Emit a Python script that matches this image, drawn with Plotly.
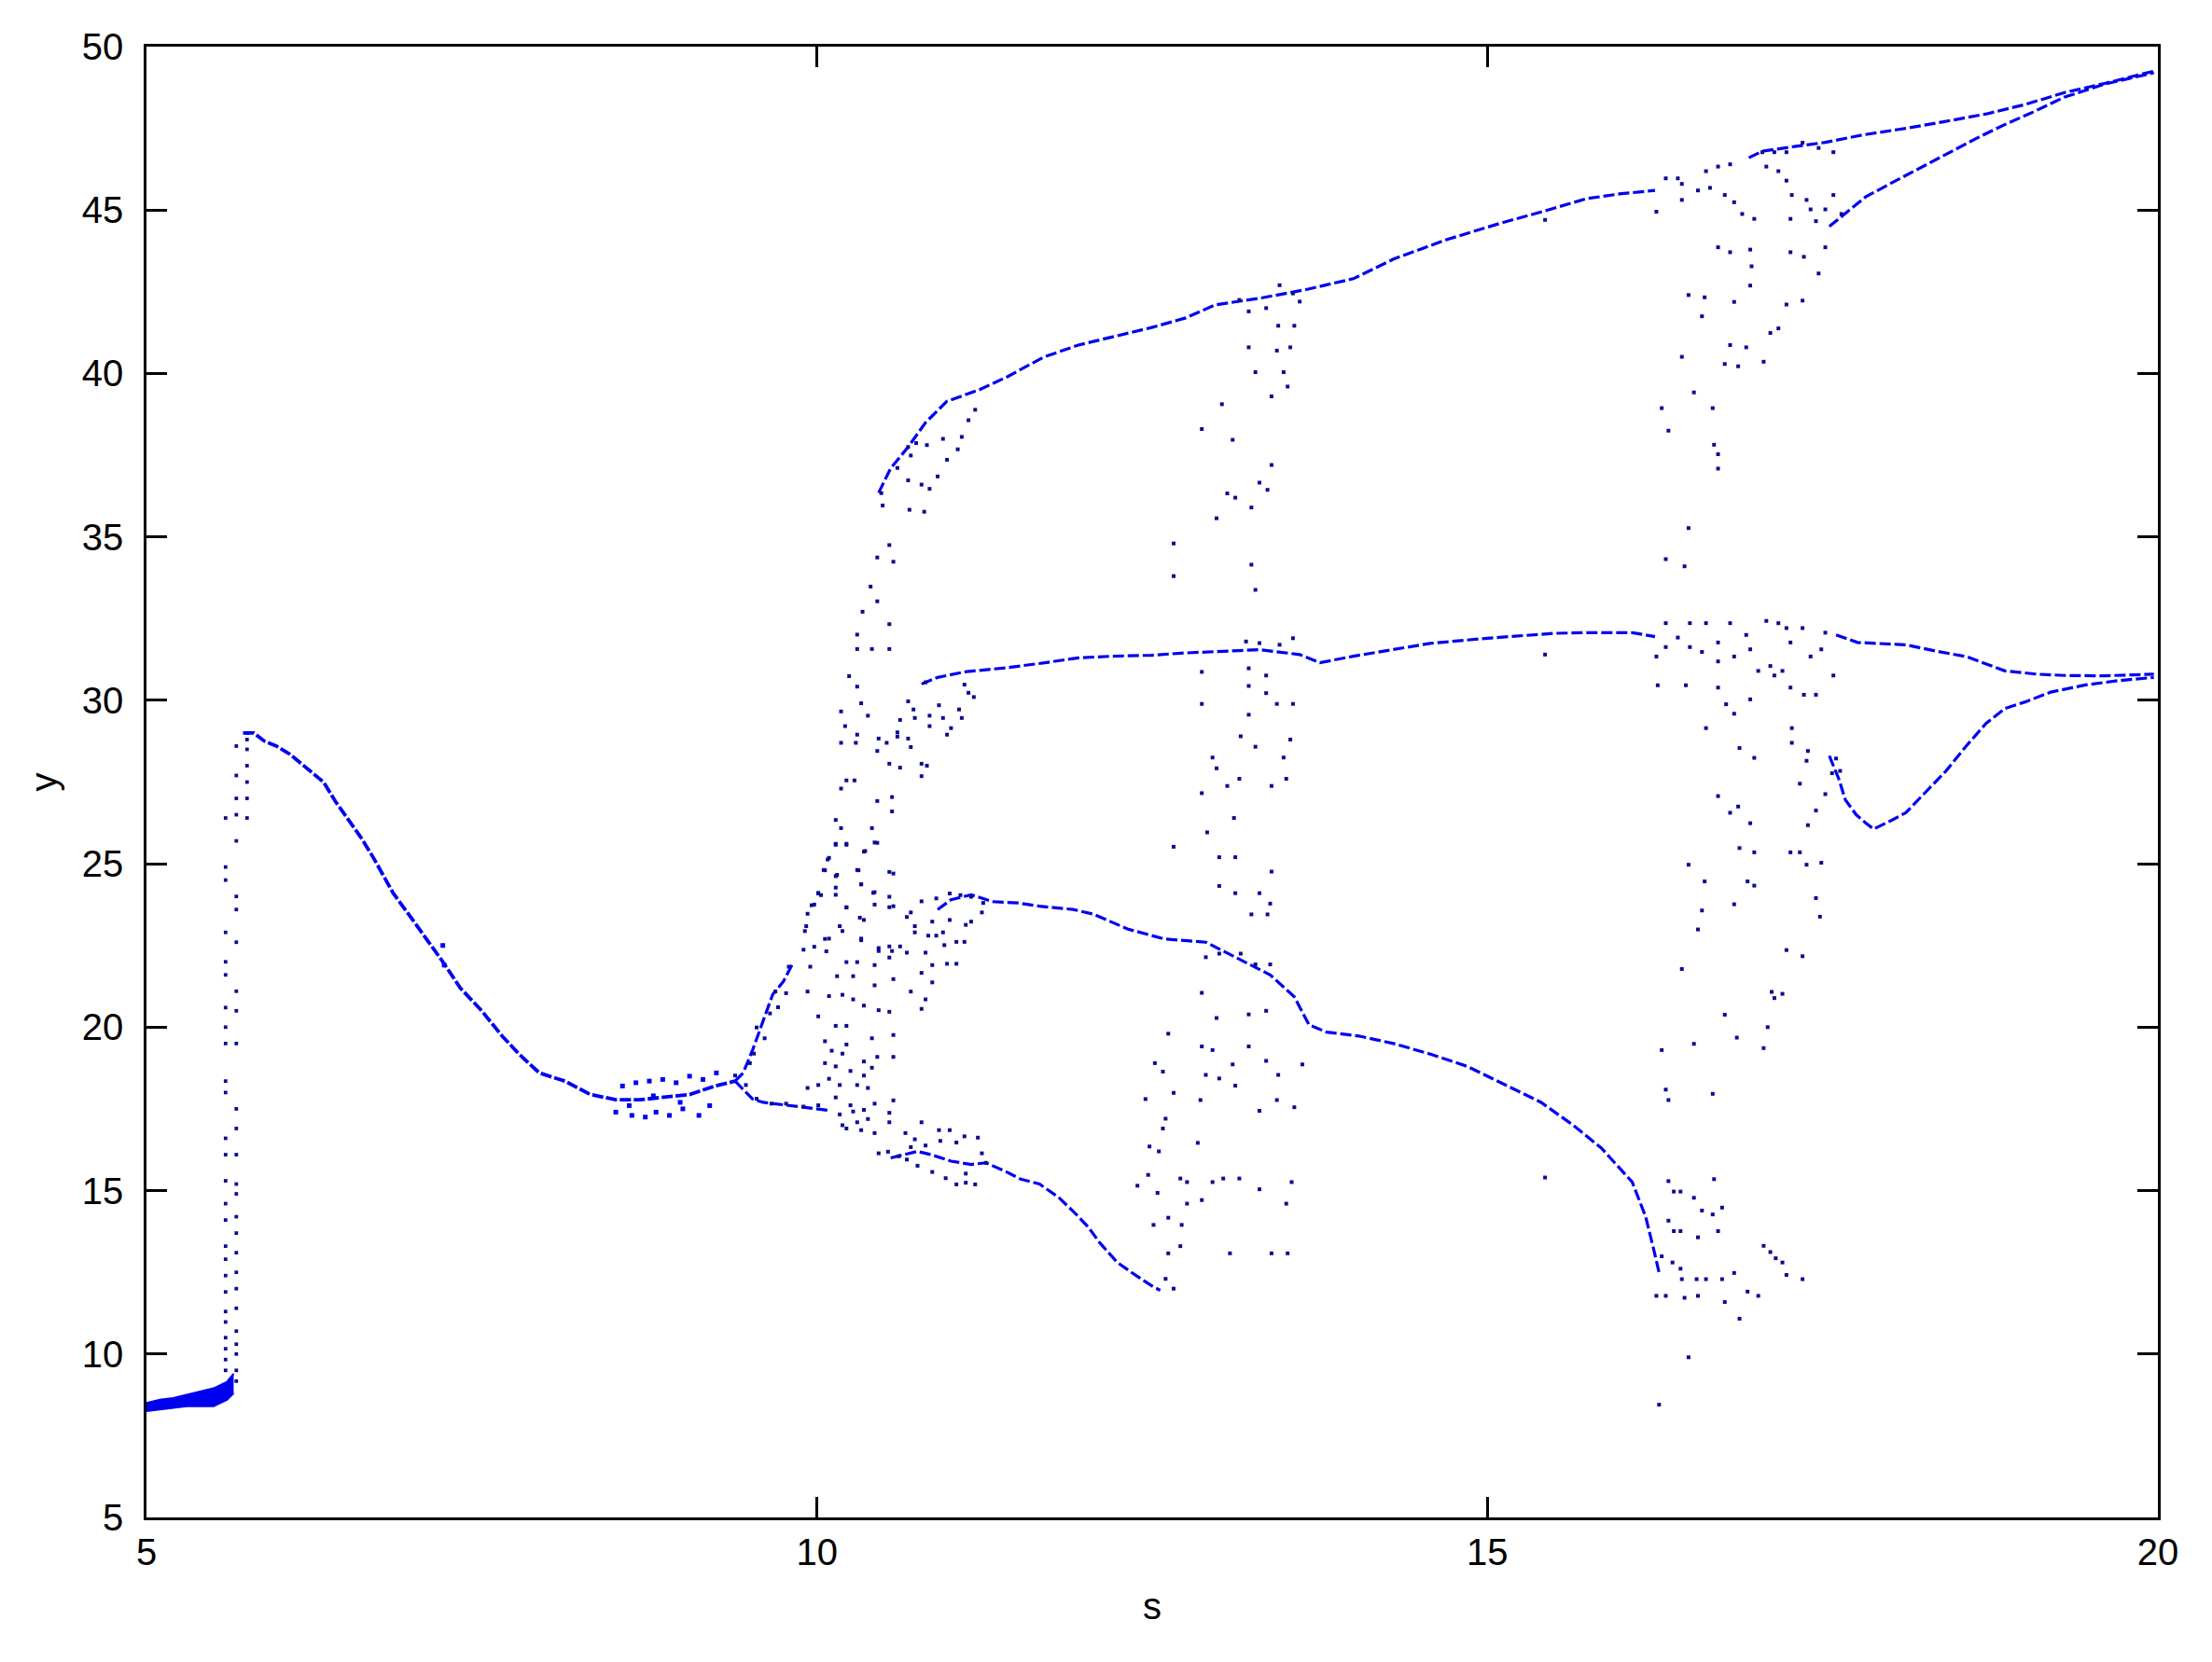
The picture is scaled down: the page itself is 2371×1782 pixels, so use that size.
import plotly.graph_objects as go

# ---------------- data ----------------
# thick period-1 band at the start
band_s = [5.0, 5.1, 5.2, 5.3, 5.4, 5.5, 5.6, 5.65]
band_lo = [8.25, 8.3, 8.35, 8.4, 8.4, 8.4, 8.6, 8.8]
band_hi = [8.5, 8.6, 8.65, 8.75, 8.85, 8.95, 9.15, 9.4]

# the jump near s = 5.6 (columns of iterates)
jump_col_s = [5.59, 5.67, 5.75]
jump_col_y = [
    [9.5, 9.83, 10.16, 10.5, 10.98, 11.3, 11.9, 12.4, 12.9, 13.3, 14.1, 14.6, 15.3, 16.1, 16.6,
     18.0, 18.35, 19.5, 20.0, 20.6, 21.6, 22.0, 22.9, 24.5, 24.9, 26.4],
    [9.17, 9.5, 10.0, 10.3, 10.7, 11.4, 12.0, 12.5, 13.1, 13.7, 14.2, 14.9, 15.2, 16.1, 16.9,
     17.5, 19.5, 20.5, 21.1, 22.6, 23.6, 24.0, 25.7, 26.5, 27.0, 27.7, 28.6],
    [26.4, 27.0, 27.5, 28.0, 28.5, 28.8, 29.0],
]

# period-1 branch
main_s = [5.72, 5.80, 5.88, 5.97, 6.07, 6.20, 6.32, 6.41, 6.50, 6.60, 6.69, 6.84, 7.00, 7.13, 7.21,
          7.34, 7.50, 7.65, 7.78, 7.93, 8.12, 8.31, 8.50, 8.68, 8.87, 9.05, 9.24, 9.39]
main_y = [29.0, 29.0, 28.75, 28.6, 28.35, 27.9, 27.5, 26.9, 26.4, 25.8, 25.2, 24.1, 23.2, 22.45, 22.0,
          21.2, 20.5, 19.74, 19.17, 18.6, 18.35, 17.94, 17.78, 17.78, 17.86, 17.94, 18.2, 18.35]

# small scatter along the plateau
plateau_pts = [(8.50, 17.4), (8.55, 18.2), (8.60, 17.6), (8.62, 17.3), (8.65, 18.3), (8.72, 17.25),
               (8.75, 18.35), (8.78, 17.9), (8.80, 17.4), (8.85, 18.4), (8.90, 17.3), (8.95, 18.3),
               (8.98, 17.7), (9.00, 17.5), (9.05, 18.5), (9.12, 17.3), (9.15, 18.4), (9.20, 17.6),
               (9.25, 18.6), (7.21, 22.5), (7.22, 21.9)]

# period-2 after s ~ 9.4
bif_up_s = [9.39, 9.45, 9.52, 9.60, 9.67, 9.75, 9.82]
bif_up_y = [18.35, 18.6, 19.3, 20.2, 21.0, 21.4, 21.95]
bif_lo_s = [9.39, 9.45, 9.52, 9.60, 9.70, 9.80, 9.90, 10.0, 10.1]
bif_lo_y = [18.35, 18.1, 17.8, 17.7, 17.65, 17.6, 17.55, 17.5, 17.45]

# period-4 / period-3 branches
br_a_s = [10.46, 10.55, 10.68, 10.81, 10.97, 11.21, 11.42, 11.69, 11.95, 12.22, 12.49, 12.75, 12.97,
          13.30, 13.64, 14.0, 14.3, 14.7, 15.1, 15.45, 15.74, 16.0, 16.25]
br_a_y = [36.35, 37.1, 37.75, 38.5, 39.15, 39.5, 39.9, 40.5, 40.87, 41.13, 41.4, 41.7, 42.1,
          42.3, 42.56, 42.9, 43.5, 44.1, 44.6, 45.0, 45.35, 45.5, 45.6]
br_b_s = [10.78, 10.9, 11.1, 11.42, 11.7, 11.95, 12.2, 12.49, 12.75, 13.02, 13.3, 13.6, 13.75, 14.0,
          14.3, 14.57, 15.0, 15.5, 15.74, 16.08, 16.25]
br_b_y = [30.5, 30.7, 30.87, 31.0, 31.15, 31.3, 31.35, 31.38, 31.45, 31.5, 31.55, 31.4, 31.15, 31.35,
          31.55, 31.74, 31.9, 32.05, 32.07, 32.07, 31.95]
br_c_s = [10.9, 11.0, 11.15, 11.31, 11.5, 11.66, 11.91, 12.06, 12.32, 12.59, 12.9, 13.12, 13.38, 13.56,
          13.67, 13.8, 14.04, 14.3, 14.57, 14.85, 15.1, 15.4, 15.64, 15.85, 16.08, 16.18, 16.24, 16.28]
br_c_y = [23.6, 23.9, 24.05, 23.84, 23.8, 23.7, 23.6, 23.46, 23.0, 22.7, 22.6, 22.13, 21.6, 20.93,
          20.07, 19.85, 19.73, 19.5, 19.18, 18.8, 18.3, 17.7, 17.0, 16.3, 15.26, 14.2, 13.2, 12.5]
br_d_s = [10.55, 10.65, 10.75, 10.85, 11.0, 11.15, 11.26, 11.4, 11.52, 11.66, 11.8, 11.92, 12.02,
          12.11, 12.24, 12.38, 12.51, 12.56]
br_d_y = [16.0, 16.1, 16.2, 16.1, 15.9, 15.8, 15.85, 15.6, 15.35, 15.2, 14.8, 14.33, 13.9,
          13.4, 12.8, 12.4, 12.05, 11.95]

# branches after the last chaotic window
br_e1_s = [16.95, 17.05, 17.3, 17.52, 17.8, 18.12, 18.4, 18.72, 19.01, 19.31, 19.61, 19.97]
br_e1_y = [46.6, 46.8, 46.95, 47.07, 47.3, 47.5, 47.7, 47.94, 48.23, 48.6, 48.88, 49.25]
br_e2_s = [17.55, 17.64, 17.82, 18.0, 18.23, 18.42, 18.65, 18.85, 19.07, 19.3, 19.6, 19.97]
br_e2_y = [44.5, 44.8, 45.4, 45.8, 46.3, 46.7, 47.2, 47.6, 48.0, 48.45, 48.85, 49.2]
br_f1_s = [17.6, 17.76, 18.12, 18.35, 18.57, 18.72, 18.86, 19.1, 19.31, 19.6, 19.97]
br_f1_y = [32.0, 31.77, 31.7, 31.5, 31.34, 31.1, 30.9, 30.8, 30.76, 30.75, 30.8]
br_f2_s = [17.55, 17.62, 17.67, 17.75, 17.82, 17.88, 18.0, 18.12, 18.27, 18.42, 18.57, 18.72, 18.86,
           19.01, 19.2, 19.46, 19.7, 19.97]
br_f2_y = [28.3, 27.6, 26.95, 26.5, 26.25, 26.06, 26.3, 26.56, 27.2, 27.84, 28.6, 29.3, 29.75,
           29.95, 30.25, 30.47, 30.6, 30.7]

# chaotic window 1 (s ~ 9.4 - 11.3)
cloud1_pts = [
    (10.14, 25.61), (10.22, 25.61), (10.43, 25.65), (10.35, 25.37), (10.09, 25.18), (10.06, 24.80),
    (10.15, 24.66), (10.31, 24.80), (10.57, 24.70), (10.01, 24.09), (10.14, 24.27), (10.33, 24.37),
    (10.43, 24.13), (10.54, 23.99), (9.93, 23.47), (9.98, 23.75), (10.03, 24.04), (10.22, 23.66),
    (10.35, 23.28), (10.43, 23.75), (10.57, 23.70), (9.91, 22.94), (10.06, 22.70), (10.19, 22.94),
    (10.33, 22.66), (10.46, 22.42), (10.54, 22.47), (10.62, 22.47), (10.73, 22.90), (10.81, 22.28),
    (10.89, 22.80), (10.95, 22.51), (11.10, 22.61), (9.90, 22.37), (10.07, 22.32), (10.22, 21.99),
    (10.30, 21.99), (10.43, 21.90), (10.54, 22.13), (10.67, 22.28), (10.78, 21.66), (10.86, 21.90),
    (10.97, 21.94), (11.04, 21.94), (9.79, 21.85), (9.95, 21.85), (10.15, 21.56), (10.27, 21.56),
    (10.43, 21.28), (10.57, 21.47), (10.70, 21.09), (10.81, 20.85), (10.86, 21.37), (9.69, 21.09),
    (9.77, 21.04), (9.93, 21.09), (10.09, 20.95), (10.19, 20.99), (10.27, 20.85), (10.35, 20.66),
    (10.46, 20.52), (10.54, 20.47), (10.78, 20.56), (9.65, 20.42), (9.71, 20.61), (10.01, 20.33),
    (10.14, 20.04), (10.22, 20.04), (9.55, 19.99), (9.61, 19.66), (10.06, 19.57), (10.22, 19.47),
    (10.41, 19.66), (10.57, 19.76), (9.53, 19.19), (10.11, 19.28), (10.19, 19.19), (10.35, 18.95),
    (10.45, 19.09), (10.57, 19.09), (9.50, 18.90), (10.06, 18.90), (10.14, 18.80), (10.25, 18.66),
    (10.35, 18.52), (10.41, 18.76), (9.39, 18.52), (9.47, 18.23), (10.01, 18.23), (10.09, 18.42),
    (10.17, 18.23), (10.30, 18.23), (10.38, 18.14), (9.93, 18.14), (9.55, 17.81), (9.66, 17.66),
    (9.77, 17.66), (9.90, 17.57), (10.01, 17.61), (10.14, 17.85), (10.25, 17.61), (10.35, 17.47),
    (10.43, 17.66), (10.57, 17.76), (10.17, 17.33), (10.27, 17.42), (10.38, 17.19), (10.22, 16.90),
    (10.33, 16.85), (10.43, 16.76), (10.54, 17.09), (10.54, 17.38), (10.19, 17.00), (10.30, 17.09),
    (10.66, 16.76), (10.78, 17.09), (10.91, 16.85), (10.99, 16.85), (11.10, 16.66), (11.20, 16.62),
    (10.73, 16.57), (10.70, 16.33), (10.81, 16.38), (10.92, 16.52), (11.04, 16.47), (10.46, 16.14),
    (10.53, 16.19), (10.61, 16.05), (10.67, 15.95), (10.75, 15.76), (10.86, 15.57), (10.96, 15.38),
    (11.04, 15.19), (11.11, 15.24), (11.18, 15.19), (11.11, 15.52), (11.23, 16.14), (11.26, 15.85),
    (10.78, 23.85), (10.89, 23.94), (10.99, 24.09), (11.07, 24.04), (11.15, 23.99), (11.24, 23.80),
    (11.23, 23.51), (11.11, 23.13), (10.94, 22.90), (10.83, 22.80), (10.73, 23.09), (10.67, 23.37),
    (10.70, 23.51), (10.86, 23.23), (10.99, 23.28), (11.15, 23.23), (11.04, 22.61),
    (10.68, 37.75), (10.74, 37.87), (10.70, 37.49), (10.82, 37.81), (10.94, 38.00), (11.08, 38.06),
    (11.05, 37.68), (10.97, 37.36), (10.60, 37.11), (10.68, 36.73), (10.78, 36.60), (10.90, 36.85),
    (10.84, 36.47), (10.48, 36.34), (10.49, 35.96), (10.69, 35.83), (10.80, 35.77), (11.13, 38.57),
    (11.18, 38.89), (10.54, 34.75), (10.45, 34.37), (10.57, 34.24), (10.40, 33.48), (10.45, 33.03),
    (10.34, 32.71), (10.54, 32.33), (10.30, 32.01), (10.30, 31.57), (10.41, 31.57), (10.54, 31.57),
    (10.24, 30.74), (10.30, 30.42), (10.33, 29.91), (10.18, 29.66), (10.38, 29.53), (10.21, 29.21),
    (10.30, 28.95), (10.18, 28.70), (10.29, 28.70), (10.46, 28.83), (10.60, 28.89), (10.68, 28.83),
    (10.45, 28.45), (10.54, 28.06), (10.62, 27.94), (10.78, 28.06), (10.82, 28.00), (10.78, 27.68),
    (10.22, 27.55), (10.28, 27.55), (10.18, 27.30), (10.45, 26.92), (10.56, 27.04), (10.56, 26.60),
    (10.14, 26.34), (10.18, 26.09), (10.41, 26.09), (10.14, 25.58), (10.22, 25.58), (10.36, 25.39),
    (10.45, 25.64), (10.08, 25.13), (10.05, 24.81), (10.30, 24.81), (10.54, 24.75), (10.14, 24.62),
    (10.33, 24.37), (10.01, 24.11), (10.14, 24.05), (10.42, 24.11), (10.54, 23.67), (9.96, 23.73),
    (10.22, 23.67), (10.32, 23.35), (10.17, 23.09), (9.92, 23.09), (10.09, 22.71), (10.33, 22.71),
    (10.46, 22.33), (10.56, 22.33), (9.98, 22.46),
    (10.68, 29.97), (10.72, 29.72), (10.73, 29.46), (10.84, 29.53), (10.94, 29.46), (11.08, 29.46),
    (11.00, 29.15), (10.97, 28.95), (11.06, 29.72), (10.62, 29.40), (10.60, 29.02), (10.52, 28.70),
    (10.70, 28.57), (10.84, 29.21), (10.91, 29.85), (11.13, 30.23), (11.17, 30.10), (11.10, 30.48),
    (10.81, 30.55),
]

# chaotic window 2 (s ~ 12.4 - 13.7)
cloud2_pts = [
    (13.22, 41.9), (13.35, 42.0), (13.44, 41.46), (13.56, 41.46), (13.22, 40.8), (13.43, 40.7),
    (13.53, 40.8), (13.27, 40.04), (13.48, 40.04), (13.51, 39.6), (13.39, 39.3), (13.02, 39.06),
    (12.87, 38.3), (13.10, 37.97), (13.39, 37.2), (13.30, 36.66), (13.36, 36.44), (13.06, 36.33),
    (13.12, 36.2), (13.24, 35.9), (12.98, 35.57), (12.66, 34.8), (12.66, 33.8), (13.24, 34.15),
    (13.27, 33.38), (13.45, 42.7), (13.55, 42.45), (13.15, 42.25), (13.6, 42.2),
    (12.87, 30.87), (13.22, 30.98), (13.35, 30.76), (13.22, 30.44), (13.35, 30.22), (12.87, 29.89),
    (13.43, 29.89), (13.55, 29.89), (13.22, 29.56), (13.16, 28.9), (13.53, 28.8), (13.27, 28.58),
    (13.48, 28.25), (12.95, 28.25), (12.98, 27.92), (13.06, 27.38), (13.15, 27.6), (13.39, 27.38),
    (13.50, 27.6), (12.87, 27.16), (13.11, 26.4), (12.91, 25.96), (12.66, 25.52), (13.0, 25.2),
    (13.12, 25.2), (13.39, 24.76), (13.0, 24.32), (13.12, 24.1), (13.30, 24.1), (13.38, 23.78),
    (13.24, 23.45), (13.36, 23.45), (13.2, 31.8), (13.3, 31.75), (13.45, 31.7), (13.55, 31.9),
    (12.90, 22.14), (13.0, 22.25), (13.16, 22.25), (13.27, 21.92), (13.38, 21.92), (12.87, 21.05),
    (12.98, 20.28), (13.22, 20.39), (13.35, 20.5), (12.87, 19.41), (12.95, 19.3), (13.22, 19.41),
    (13.35, 18.97), (13.62, 18.86), (12.58, 18.64), (12.90, 18.54), (13.0, 18.43), (13.10, 18.86),
    (13.12, 18.21), (13.44, 18.54), (12.66, 17.99), (12.86, 17.77), (13.30, 17.44), (13.43, 17.77),
    (13.56, 17.55), (12.58, 16.9), (12.84, 16.46), (12.48, 16.35), (12.39, 15.15), (12.47, 15.48),
    (12.54, 14.93), (12.71, 15.37), (12.76, 15.26), (12.76, 14.6), (12.87, 14.71), (12.95, 15.26),
    (13.03, 15.37), (13.15, 15.37), (13.30, 15.04), (13.54, 15.26), (13.50, 14.6), (12.51, 13.95),
    (12.62, 14.17), (12.72, 13.95), (12.71, 13.3), (12.62, 13.08), (13.08, 13.08), (13.39, 13.08),
    (13.51, 13.08), (12.45, 17.8), (12.52, 18.9), (12.6, 17.2), (12.62, 19.8), (12.55, 16.2),
    (12.6, 12.3), (12.66, 12.0),
]

# chaotic window 3 (s ~ 16.2 - 17.7)
cloud3_pts = [
    (16.33, 45.97), (16.42, 45.97), (16.45, 45.8), (16.63, 46.19), (16.72, 46.33), (16.81, 46.4),
    (17.05, 46.77), (17.14, 46.77), (17.23, 46.77), (17.35, 47.06), (17.47, 46.9), (17.58, 46.77),
    (16.26, 44.95), (16.45, 45.31), (16.57, 45.6), (16.66, 45.68), (16.77, 45.46), (16.84, 45.24),
    (16.9, 44.88), (16.99, 44.73), (17.08, 46.33), (17.17, 46.19), (17.23, 45.9), (17.27, 45.46),
    (17.38, 45.31), (17.41, 45.02), (17.45, 44.66), (17.58, 45.46), (17.52, 45.02), (17.64, 44.88),
    (17.26, 44.73), (16.72, 43.86), (16.81, 43.71), (16.96, 43.79), (17.26, 43.71), (17.36, 43.57),
    (17.52, 43.86), (16.97, 43.28), (17.47, 43.06), (16.96, 42.69), (16.5, 42.4), (16.62, 42.33),
    (16.84, 42.19), (17.23, 42.11), (17.35, 42.23), (16.6, 41.75), (17.17, 41.38), (17.11, 41.24),
    (16.81, 40.87), (16.93, 40.8), (16.45, 40.51), (16.77, 40.29), (16.87, 40.22), (17.06, 40.36),
    (16.54, 39.42), (16.3, 38.94), (16.68, 38.94), (16.35, 38.25), (16.69, 37.82), (16.72, 37.53),
    (16.72, 37.09), (16.5, 35.27), (16.33, 34.32), (16.47, 34.1),
    (16.33, 32.36), (16.42, 31.92), (16.51, 32.36), (16.63, 32.36), (16.72, 31.77), (16.81, 32.36),
    (16.93, 32.0), (17.08, 32.43), (17.17, 32.36), (17.23, 32.21), (17.35, 32.21), (17.52, 32.07),
    (16.26, 31.34), (16.33, 31.63), (16.51, 31.63), (16.6, 31.48), (16.72, 31.19), (16.84, 31.34),
    (16.96, 31.56), (17.11, 31.05), (17.2, 30.9), (17.26, 31.77), (17.41, 31.34), (17.49, 31.56),
    (17.58, 30.76), (16.27, 30.46), (16.48, 30.46), (16.72, 30.39), (17.02, 30.9), (17.14, 30.76),
    (17.26, 30.39), (17.36, 30.17), (17.45, 30.17), (16.78, 29.88), (16.96, 30.03), (16.84, 29.59),
    (16.63, 29.15), (17.27, 29.15), (17.27, 28.7),
    (16.88, 28.54), (16.99, 28.24), (17.39, 28.45), (17.38, 28.15), (17.6, 28.22), (17.57, 27.77),
    (17.63, 27.84), (17.33, 27.45), (16.72, 27.07), (16.87, 26.75), (16.81, 26.56), (16.96, 26.24),
    (17.45, 26.63), (17.52, 27.13), (17.39, 26.18), (16.88, 25.48), (16.99, 25.35), (17.26, 25.35),
    (17.33, 25.35), (17.38, 24.97), (17.49, 25.03), (16.5, 24.97), (16.62, 24.46), (16.94, 24.46),
    (16.99, 24.33), (17.45, 23.95), (16.84, 23.76), (16.6, 23.57), (17.48, 23.38), (16.57, 22.99),
    (17.23, 22.36), (17.35, 22.17), (16.45, 21.78), (17.12, 21.08), (17.2, 21.02), (17.14, 20.89),
    (16.77, 20.38), (17.09, 20.0), (16.54, 19.49), (16.86, 19.68), (17.06, 19.36), (16.3, 19.3),
    (16.33, 18.09), (16.35, 17.77), (16.68, 17.96),
    (16.35, 15.29), (16.39, 14.97), (16.44, 14.97), (16.54, 14.78), (16.69, 15.35), (16.6, 14.39),
    (16.68, 14.27), (16.75, 14.48), (16.35, 14.08), (16.39, 13.76), (16.44, 13.76), (16.57, 13.57),
    (16.72, 13.76), (16.3, 12.99), (16.38, 12.8), (16.44, 12.61), (16.45, 12.29), (16.56, 12.29),
    (16.63, 12.29), (16.75, 12.29), (16.84, 12.48), (16.26, 11.78), (16.33, 11.78), (16.47, 11.72),
    (16.57, 11.78), (16.77, 11.59), (16.94, 11.91), (17.02, 11.78), (16.88, 11.08), (16.5, 9.9),
    (17.06, 13.31), (17.11, 13.12), (17.15, 12.93), (17.2, 12.8), (17.23, 12.42), (17.35, 12.29),
    (16.28, 8.45),
]

# isolated iterates
single_pts = [(15.43, 44.7), (15.43, 31.4), (15.43, 15.4)]

x_ticks = [5, 10, 15, 20]
y_ticks = [5, 10, 15, 20, 25, 30, 35, 40, 45, 50]

# ---------------- figure ----------------
BLUE = '#0000f0'
DOT = '#0c0c90'
FONT = 'Liberation Sans, Arial, sans-serif'

fig = go.Figure()


def add_branch(s, y, width=3.2, dash='12px,4px'):
    fig.add_trace(go.Scatter(x=s, y=y, mode='lines',
                             line=dict(color=BLUE, width=width, dash=dash),
                             hoverinfo='skip', showlegend=False))


def add_points(pts, size=4, color=DOT):
    xs = [p[0] for p in pts]
    ys = [p[1] for p in pts]
    fig.add_trace(go.Scatter(x=xs, y=ys, mode='markers',
                             marker=dict(symbol='square', size=size, color=color,
                                         line=dict(width=0)),
                             hoverinfo='skip', showlegend=False))


# band
fig.add_trace(go.Scatter(x=band_s, y=band_lo, mode='lines', line=dict(color=BLUE, width=2),
                         hoverinfo='skip', showlegend=False))
fig.add_trace(go.Scatter(x=band_s, y=band_hi, mode='lines', line=dict(color=BLUE, width=2),
                         fill='tonexty', fillcolor=BLUE, hoverinfo='skip', showlegend=False))

# jump columns
jump_pts = []
for s_val, ys in zip(jump_col_s, jump_col_y):
    for yv in ys:
        jump_pts.append((s_val, yv))
add_points(jump_pts, size=3.8)

add_branch(main_s, main_y, width=3.8, dash='12px,3px')
add_points(plateau_pts, size=5, color=BLUE)
add_branch(bif_up_s, bif_up_y)
add_branch(bif_lo_s, bif_lo_y)
for s_arr, y_arr in [(br_a_s, br_a_y), (br_b_s, br_b_y), (br_c_s, br_c_y), (br_d_s, br_d_y),
                     (br_e1_s, br_e1_y), (br_e2_s, br_e2_y), (br_f1_s, br_f1_y), (br_f2_s, br_f2_y)]:
    add_branch(s_arr, y_arr)

add_points(cloud1_pts)
add_points(cloud2_pts)
add_points(cloud3_pts)
add_points(single_pts)

axis_common = dict(showline=True, linecolor='black', linewidth=2.5, mirror='ticks',
                   ticks='inside', ticklen=22, tickwidth=2.5, tickcolor='black',
                   showgrid=False, zeroline=False,
                   tickfont=dict(family=FONT, size=40, color='black'))

fig.update_xaxes(range=[5, 20], tickvals=x_ticks, ticktext=[str(v) for v in x_ticks],
                 title=dict(text='s', standoff=24, font=dict(family=FONT, size=40, color='black')),
                 ticklabelstandoff=0, **axis_common)
fig.update_yaxes(range=[5, 50], tickvals=y_ticks, ticktext=[str(v) for v in y_ticks],
                 title=dict(text='y', standoff=14, font=dict(family=FONT, size=40, color='black')),
                 ticklabelstandoff=14, **axis_common)

# the page body adds an 8 px offset; margins compensate so the plot box lands where the reference has it
fig.update_layout(width=2371, height=1782, autosize=False,
                  margin=dict(l=149, r=66, t=42, b=163),
                  plot_bgcolor='white', paper_bgcolor='white', showlegend=False)

fig.write_html("out.html")
